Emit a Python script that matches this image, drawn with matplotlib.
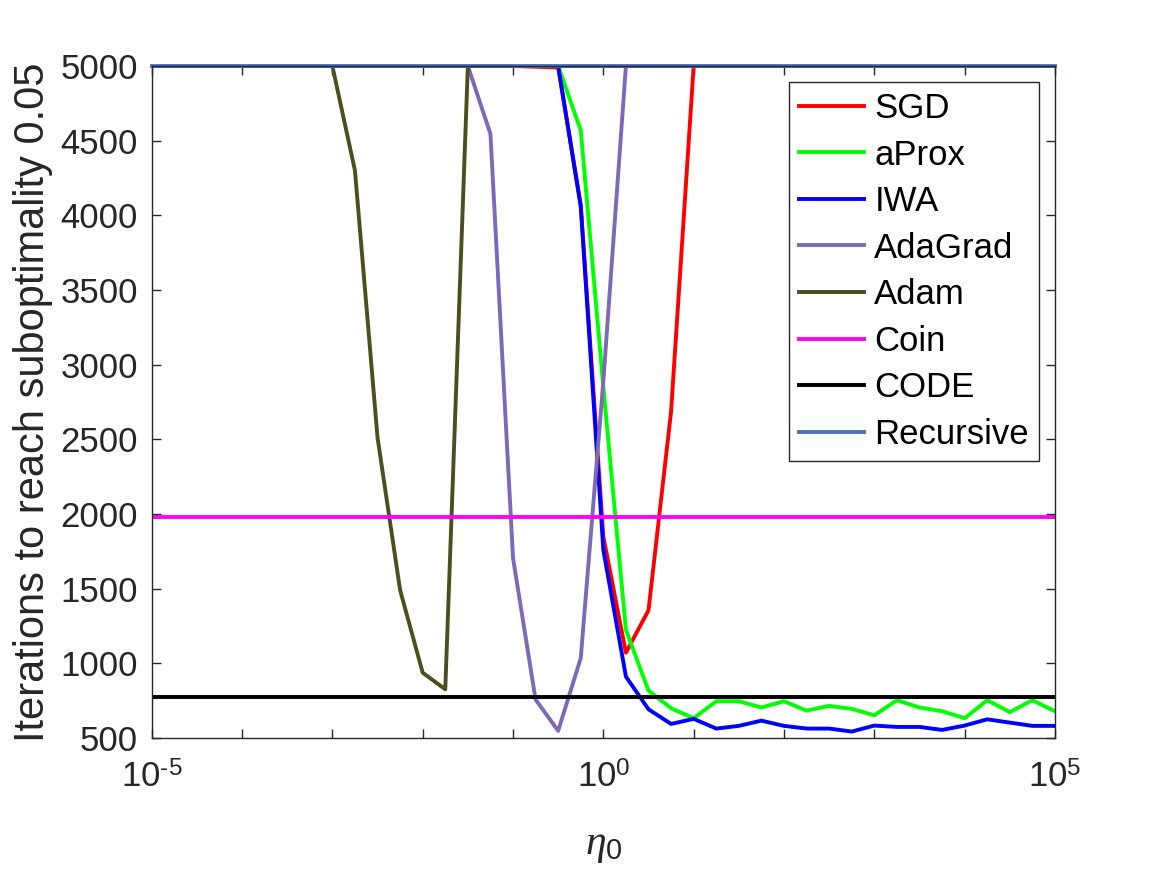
import numpy as np
import matplotlib
matplotlib.use('Agg')
import matplotlib.pyplot as plt
from matplotlib.ticker import NullLocator

plt.rcParams['font.family'] = ['Liberation Sans', 'DejaVu Sans']
plt.rcParams['mathtext.fontset'] = 'custom'
plt.rcParams['mathtext.rm'] = 'Liberation Sans'
plt.rcParams['mathtext.it'] = 'Liberation Serif:italic'

# step size grid (41 points, 4 per decade)
eta0 = np.logspace(-5, 5, 41)

# iterations needed to reach suboptimality 0.05 (capped at 5000)
sgd = [5000] * 17 + [4995, 4990, 4070, 1849, 1071, 1355, 2686] + [5000] * 17
aprox = [5000] * 19 + [4569, 2850, 1223, 817, 699, 632, 746, 746, 704, 746, 683,
                       715, 695, 652, 753, 704, 679, 632, 753, 673, 753, 679]
iwa = [5000] * 19 + [4058, 1759, 911, 692, 594, 628, 563, 581, 616, 581, 563,
                     563, 543, 583, 574, 574, 554, 583, 625, 603, 581, 581]
adagrad = [5000] * 15 + [4545, 1705, 757, 548, 1035, 2890] + [5000] * 20
adam = [5000] * 9 + [4300, 2512, 1490, 937, 826] + [5000] * 27
coin = [1980] * 41
code = [775] * 41
recursive = [5000] * 41

names = ['SGD', 'aProx', 'IWA', 'AdaGrad', 'Adam', 'Coin', 'CODE', 'Recursive']
colors = ['#ff0000', '#00ff00', '#0000ff', '#7e68b8', '#4d4d1f',
          '#ff00ff', '#000000', '#5070bd']
series = [sgd, aprox, iwa, adagrad, adam, coin, code, recursive]

fig = plt.figure(figsize=(11.67, 8.75), dpi=100)
ax = fig.add_axes([0.130, 0.1566, 0.774, 0.768])

for s, c, n in zip(series, colors, names):
	ax.plot(eta0, s, color=c, lw=2.8, label=n, clip_on=(n != 'Recursive'))

ax.set_xscale('log')
ax.set_xlim(1e-5, 1e5)
ax.set_ylim(500, 5000)
ax.set_xticks([10.0 ** p for p in range(-5, 6)])
ax.set_xticklabels([r'$10^{\text{%d}}$' % p if p % 5 == 0 else '' for p in range(-5, 6)])
ax.xaxis.set_minor_locator(NullLocator())
ax.set_yticks(np.arange(500, 5001, 500))

ax.tick_params(direction='in', length=6.5, width=1, top=True, right=True,
               labelsize=25, colors='#262626')
ax.tick_params(axis='x', pad=17)
ax.tick_params(axis='y', pad=10)
for sp in ax.spines.values():
	sp.set_color('#262626')
	sp.set_linewidth(1)

ax.set_ylabel('Iterations to reach suboptimality 0.05', fontsize=30, color='#262626', labelpad=5)
ax.set_xlabel(r'$\eta_0$', fontsize=30, color='#262626', labelpad=22)

leg = ax.legend(loc='upper right', fontsize=25, handlelength=1.86, labelspacing=0.39,
                fancybox=False, framealpha=1, edgecolor='#262626',
                borderaxespad=0.45, handletextpad=0.3, borderpad=0.3)
leg.get_frame().set_linewidth(1)

fig.savefig('out.png', dpi=100)
